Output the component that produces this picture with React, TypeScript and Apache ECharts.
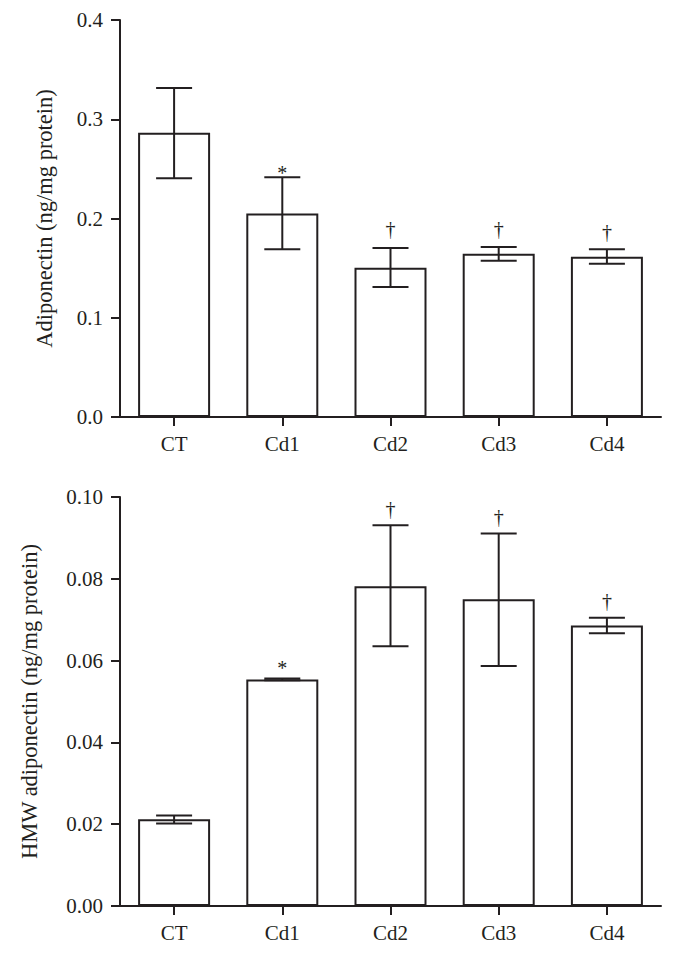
import React, { useEffect, useRef } from "react";
import * as echarts from "echarts";

const categories = ["CT", "Cd1", "Cd2", "Cd3", "Cd4"];

const adiponectinMean = [0.2865, 0.205, 0.1505, 0.1646, 0.1615];
const adiponectinLow = [0.2405, 0.169, 0.131, 0.1575, 0.1545];
const adiponectinHigh = [0.3315, 0.2415, 0.1703, 0.1713, 0.169];
const adiponectinMarks = ["", "*", "†", "†", "†"];
const adiponectinMarkPos = [0, 0.246, 0.1894, 0.1894, 0.1864];

const hmwMean = [0.0212, 0.0554, 0.0782, 0.075, 0.0686];
const hmwLow = [0.0202, 0.0552, 0.0635, 0.0587, 0.0667];
const hmwHigh = [0.0221, 0.0556, 0.0931, 0.0911, 0.0705];
const hmwMarks = ["", "*", "†", "†", "†"];
const hmwMarkPos = [0, 0.0583, 0.0971, 0.0952, 0.0746];

const topTicks = { min: 0, max: 0.4, interval: 0.1, digits: 1 };
const bottomTicks = { min: 0, max: 0.1, interval: 0.02, digits: 2 };

const INK = "#231f20";
const FONT = "Liberation Serif";

export default function App() {
  const ref = useRef<HTMLDivElement>(null);

  useEffect(() => {
    document.body.style.margin = "0";
    if (!ref.current) return;
    const chart = echarts.init(ref.current, undefined, { renderer: "svg" });

    const errorSeries = (axisIndex: number, low: number[], high: number[]) => ({
      type: "custom",
      xAxisIndex: axisIndex,
      yAxisIndex: axisIndex,
      z: 5,
      data: categories.map((_, i) => [i, low[i], high[i]]),
      renderItem: (params: any, api: any) => {
        const i = api.value(0);
        const lo = api.coord([i, api.value(1)]);
        const hi = api.coord([i, api.value(2)]);
        const hw = 18;
        const style = { stroke: INK, lineWidth: 2 };
        return {
          type: "group",
          children: [
            { type: "line", shape: { x1: lo[0], y1: lo[1], x2: hi[0], y2: hi[1] }, style },
            { type: "line", shape: { x1: hi[0] - hw, y1: hi[1], x2: hi[0] + hw, y2: hi[1] }, style },
            { type: "line", shape: { x1: lo[0] - hw, y1: lo[1], x2: lo[0] + hw, y2: lo[1] }, style },
          ],
        };
      },
    });

    const markSeries = (axisIndex: number, marks: string[], pos: number[]) => {
      const items = categories
        .map((_, i) => [i, pos[i], marks[i]])
        .filter((d) => d[2] !== "");
      return {
        type: "custom",
        xAxisIndex: axisIndex,
        yAxisIndex: axisIndex,
        z: 6,
        data: items,
        renderItem: (params: any, api: any) => {
          const item = items[params.dataIndex];
          const p = api.coord([api.value(0), api.value(1)]);
          return {
            type: "text",
            x: p[0],
            y: p[1],
            style: {
              text: String(item[2]),
              fontFamily: FONT,
              fontSize: 20,
              fill: INK,
              textAlign: "center",
              textVerticalAlign: "middle",
            },
          };
        },
      };
    };

    const xAxisBase = (gridIndex: number) => ({
      type: "category",
      gridIndex,
      data: categories,
      axisLine: { show: true, lineStyle: { color: INK, width: 2 } },
      axisTick: { show: true, alignWithLabel: true, length: 9, lineStyle: { color: INK, width: 2 } },
      axisLabel: { color: INK, fontFamily: FONT, fontSize: 21, margin: 16 },
    });

    const yAxisBase = (gridIndex: number, t: any, name: string, gap: number) => ({
      type: "value",
      gridIndex,
      min: t.min,
      max: t.max,
      interval: t.interval,
      name,
      nameLocation: "middle",
      nameGap: gap,
      nameTextStyle: { color: INK, fontFamily: FONT, fontSize: 22.5 },
      axisLine: { show: true, lineStyle: { color: INK, width: 2 } },
      axisTick: { show: true, length: 9, lineStyle: { color: INK, width: 2 } },
      axisLabel: {
        color: INK,
        fontFamily: FONT,
        fontSize: 21,
        margin: 17,
        formatter: (v: number) => v.toFixed(t.digits),
      },
      splitLine: { show: false },
    });

    const barSeries = (axisIndex: number, values: number[]) => ({
      type: "bar",
      xAxisIndex: axisIndex,
      yAxisIndex: axisIndex,
      data: values,
      barWidth: 72,
      itemStyle: { color: "#ffffff", borderColor: INK, borderWidth: 2 },
      z: 2,
    });

    chart.setOption({
      animation: false,
      backgroundColor: "#ffffff",
      grid: [
        { left: 120, right: 13, top: 20, height: 397 },
        { left: 120, right: 13, top: 497, height: 409 },
      ],
      xAxis: [xAxisBase(0), xAxisBase(1)],
      yAxis: [
        yAxisBase(0, topTicks, "Adiponectin (ng/mg protein)", 64),
        yAxisBase(1, bottomTicks, "HMW adiponectin (ng/mg protein)", 79),
      ],
      series: [
        barSeries(0, adiponectinMean),
        errorSeries(0, adiponectinLow, adiponectinHigh),
        markSeries(0, adiponectinMarks, adiponectinMarkPos),
        barSeries(1, hmwMean),
        errorSeries(1, hmwLow, hmwHigh),
        markSeries(1, hmwMarks, hmwMarkPos),
      ],
    });

    return () => chart.dispose();
  }, []);

  return <div ref={ref} style={{ width: 674, height: 955 }} />;
}
